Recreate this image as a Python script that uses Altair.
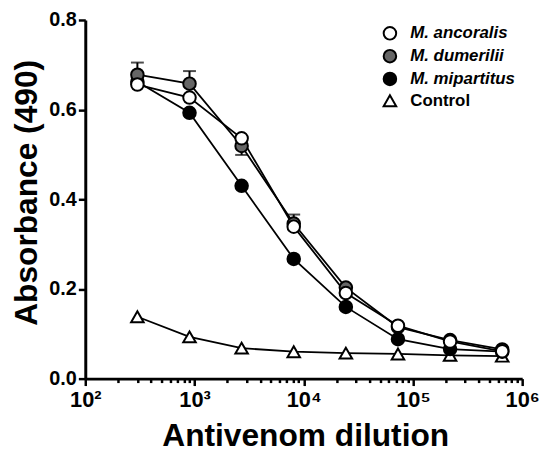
import altair as alt
import pandas as pd

# ---- data ----
dilution = [300, 900, 2700, 8100, 24300, 72900, 218700, 656100]
series_names = ["M. ancoralis", "M. dumerilii", "M. mipartitus", "Control"]
ancoralis = [0.656, 0.627, 0.536, 0.339, 0.191, 0.118, 0.083, 0.061]
dumerilii = [0.678, 0.658, 0.519, 0.346, 0.203, 0.115, 0.086, 0.065]
mipartitus = [0.662, 0.593, 0.430, 0.267, 0.160, 0.088, 0.066, 0.060]
control = [0.138, 0.093, 0.068, 0.060, 0.057, 0.055, 0.052, 0.050]

# one-sided error bars visible for M. dumerilii
err_dilution = [300, 900, 2700, 8100]
err_mean = [0.678, 0.658, 0.519, 0.346]
err_end = [0.705, 0.686, 0.499, 0.366]

fills = ["white", "#666666", "black", "white"]
strokes = ["black", "black", "black", "black"]
shapes = ["circle", "circle", "circle", "triangle-up"]

minor = [k * d for d in [100, 1000, 10000, 100000] for k in range(1, 10)]
x_ticks = minor + [1000000]
y_ticks = [0.0, 0.2, 0.4, 0.6, 0.8]

# draw order: Control bottom, then mipartitus, dumerilii, ancoralis on top
draw_order = [("Control", control), ("M. mipartitus", mipartitus),
              ("M. dumerilii", dumerilii), ("M. ancoralis", ancoralis)]
rows = []
for rank, (name, vals) in enumerate(draw_order):
    for d, v in zip(dilution, vals):
        rows.append({"dilution": d, "absorbance": v, "series": name, "rank": rank})
df = pd.DataFrame(rows)

err_df = pd.DataFrame({"dilution": err_dilution, "mean": err_mean, "end": err_end})

FONT = "Liberation Sans"

label_expr = ("datum.value == 100 ? '10²' : datum.value == 1000 ? '10³' : "
              "datum.value == 10000 ? '10⁴' : datum.value == 100000 ? '10⁵' : "
              "datum.value == 1000000 ? '10⁶' : ''")
major_test = "indexof([100,1000,10000,100000,1000000], datum.value) >= 0"

x_scale = alt.Scale(type="log", domain=[100, 1000000], nice=False)
y_scale = alt.Scale(domain=[0, 0.8], nice=False)

x_axis = alt.Axis(
    values=x_ticks, labelExpr=label_expr, grid=False,
    tickSize={"condition": {"test": major_test, "value": 7}, "value": 4},
    tickWidth=2.5, tickColor="black", domainWidth=3, domainColor="black",
    labelFont=FONT, labelFontSize=22, labelFontWeight="bold", labelColor="black",
    labelPadding=4, labelOverlap=False, labelFlush=False,
    title="Antivenom dilution", titleFont=FONT, titleFontSize=32,
    titleFontWeight="bold", titleColor="black",
    titleX=222, titleY=68, titleBaseline="alphabetic",
)
y_axis = alt.Axis(
    values=y_ticks, format=".1f", grid=False,
    tickSize=7, tickWidth=2.5, tickColor="black", domainWidth=3, domainColor="black",
    labelFont=FONT, labelFontSize=20, labelFontWeight="bold", labelColor="black",
    labelPadding=2,
    title="Absorbance (490)", titleFont=FONT, titleFontSize=32,
    titleFontWeight="bold", titleColor="black",
    titleX=-49, titleY=174, titleBaseline="alphabetic",
)

legend = alt.Legend(
    title=None, orient="none", legendX=299, legendY=5,
    labelFont=FONT, labelFontSize=17, labelFontWeight="bold", labelColor="black",
    labelFontStyle={"expr": "datum.label == 'Control' ? 'normal' : 'italic'"},
    symbolSize=160, symbolStrokeWidth=2,
    labelOffset=12, rowPadding=2,
)

x_enc = alt.X("dilution:Q", scale=x_scale, axis=x_axis)
y_enc = alt.Y("absorbance:Q", scale=y_scale, axis=y_axis)

lines = alt.Chart(df).mark_line(color="black", strokeWidth=1.8).encode(
    x=x_enc, y=y_enc, detail="series:N"
)

err_rules = alt.Chart(err_df).mark_rule(color="black", strokeWidth=2).encode(
    x=alt.X("dilution:Q", scale=x_scale),
    y=alt.Y("mean:Q", scale=y_scale),
    y2="end:Q",
)
err_caps = alt.Chart(err_df).mark_tick(color="black", thickness=2, size=13, orient="horizontal").encode(
    x=alt.X("dilution:Q", scale=x_scale),
    y=alt.Y("end:Q", scale=y_scale),
)

points = alt.Chart(df).mark_point(
    filled=True, size=160, strokeWidth=2, opacity=1
).encode(
    x=x_enc, y=y_enc,
    fill=alt.Fill("series:N", scale=alt.Scale(domain=series_names, range=fills), legend=legend),
    stroke=alt.Stroke("series:N", scale=alt.Scale(domain=series_names, range=strokes), legend=legend),
    shape=alt.Shape("series:N", scale=alt.Scale(domain=series_names, range=shapes), legend=legend),
    order=alt.Order("rank:Q"),
)

chart = alt.layer(lines, err_rules, err_caps, points).properties(
    width=441, height=362,
    autosize=alt.AutoSizeParams(type="none"),
    padding={"left": 78, "top": 10, "right": 20, "bottom": 75},
    background="white",
).configure_view(stroke=None)

chart.save("out.html", embed_options={"renderer": "svg", "actions": False})
